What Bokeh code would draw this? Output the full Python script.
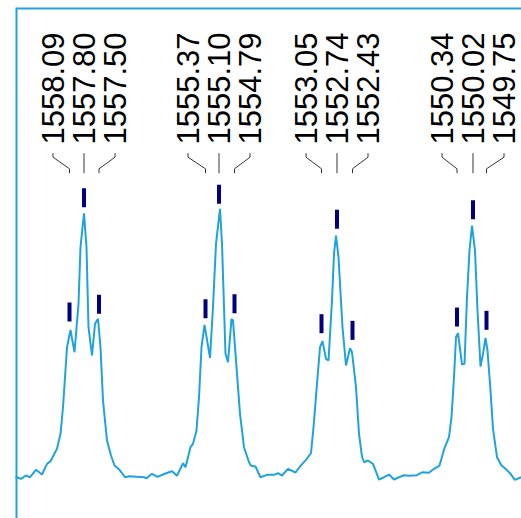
import math
from bokeh.plotting import figure
from bokeh.models import Range1d, Span, ColumnDataSource
from bokeh.core.properties import value
from bokeh.embed import file_html
from bokeh.resources import INLINE

# ---- spectrum trace (m/z, relative intensity) ----
mz = [1559.20, 1559.14, 1559.06, 1558.96, 1558.88, 1558.76, 1558.64, 1558.54, 1558.47, 1558.34,
      1558.27, 1558.22, 1558.18, 1558.14, 1558.07, 1557.99, 1557.91, 1557.87, 1557.80, 1557.75,
      1557.71, 1557.64, 1557.58, 1557.52, 1557.47, 1557.42, 1557.34, 1557.26, 1557.19, 1557.09,
      1556.98, 1556.89, 1556.60, 1556.55, 1556.44, 1556.33, 1556.17, 1556.04, 1555.94, 1555.82,
      1555.77, 1555.67, 1555.62, 1555.55, 1555.50, 1555.45, 1555.39, 1555.28, 1555.22, 1555.16,
      1555.08, 1555.04, 1554.97, 1554.92, 1554.85, 1554.82, 1554.74, 1554.68, 1554.60, 1554.50,
      1554.46, 1554.37, 1554.27, 1554.14, 1554.00, 1553.92, 1553.84, 1553.72, 1553.57, 1553.47,
      1553.36, 1553.26, 1553.21, 1553.14, 1553.08, 1553.03, 1552.96, 1552.91, 1552.84, 1552.80,
      1552.76, 1552.71, 1552.63, 1552.56, 1552.48, 1552.44, 1552.36, 1552.30, 1552.24, 1552.20,
      1552.12, 1552.02, 1551.90, 1551.80, 1551.70, 1551.60, 1551.50, 1551.40, 1551.29, 1551.14,
      1551.04, 1550.90, 1550.80, 1550.69, 1550.59, 1550.50, 1550.45, 1550.40, 1550.36, 1550.32,
      1550.24, 1550.19, 1550.14, 1550.09, 1550.04, 1549.98, 1549.93, 1549.87, 1549.82, 1549.77,
      1549.73, 1549.67, 1549.62, 1549.54, 1549.45, 1549.37, 1549.27, 1549.18, 1549.07, 1549.00]
intensity = [4.6, 4.65, 4.08, 5.25, 4.65, 7.28, 5.61, 9.40, 10.33, 14.73,
             20.05, 29.49, 40.14, 50.79, 56.96, 49.01, 66.19, 86.28, 98.34, 86.28,
             57.88, 47.84, 59.09, 60.87, 50.79, 31.87, 17.67, 12.35, 8.80, 7.28,
             4.65, 5.00, 4.65, 4.29, 5.86, 4.79, 5.96, 6.78, 5.15, 9.62,
             8.20, 15.30, 16.50, 21.22, 33.04, 50.79, 58.74, 47.02, 64.98, 87.48,
             99.90, 87.48, 48.44, 45.46, 60.87, 60.26, 41.35, 27.15, 15.30, 9.97,
             8.70, 8.45, 4.65, 5.50, 5.50, 6.07, 5.25, 7.63, 6.32, 8.70,
             10.82, 13.24, 22.39, 37.80, 50.79, 52.92, 46.67, 46.07, 67.36, 83.93,
             90.43, 82.73, 57.88, 44.29, 50.43, 49.01, 36.59, 20.05, 12.00, 9.97,
             10.58, 9.40, 3.83, 4.65, 5.61, 3.83, 4.65, 5.36, 5.15, 5.36,
             6.42, 6.21, 7.63, 8.80, 15.01, 18.85, 25.94, 40.14, 54.33, 55.75,
             44.65, 44.89, 68.53, 85.11, 93.98, 85.11, 63.81, 43.94, 48.44, 54.12,
             49.62, 35.42, 21.83, 11.75, 8.80, 7.63, 5.86, 3.73, 4.54, 4.8]

# ---- annotated peaks ----
peak_mz = [1558.09, 1557.80, 1557.50, 1555.37, 1555.10, 1554.79,
           1553.05, 1552.74, 1552.43, 1550.34, 1550.02, 1549.75]
peak_int = [57.78, 98.34, 60.51, 58.95, 99.55, 60.72,
            53.63, 90.68, 51.28, 56.00, 94.08, 54.83]
peak_labels = ["1558.09", "1557.80", "1557.50", "1555.37", "1555.10", "1554.79",
               "1553.05", "1552.74", "1552.43", "1550.34", "1550.02", "1549.75"]
group_main_mz = [1557.80, 1555.10, 1552.74, 1550.02]

# ---- layout ----
W, H = 521, 518
BORDER_L, BORDER_T = 15, 7
X_START, X_END = 1559.17, 1549.05
Y_START, Y_END = -10.0, 171.355
BLUE = "#1fa3da"
NAVY = "#000080"

px_per_x = (W - BORDER_L) / (X_START - X_END)
px_per_y = (H - BORDER_T) / (Y_END - Y_START)

def y_from_top(px):
    # px measured from the page top edge
    return Y_END - (px - BORDER_T) / px_per_y

p = figure(width=W, height=H, output_backend="svg", toolbar_location=None,
           x_range=Range1d(X_START, X_END), y_range=Range1d(Y_START, Y_END),
           min_border_left=BORDER_L, min_border_right=0,
           min_border_top=BORDER_T, min_border_bottom=0)
p.axis.visible = False
p.grid.visible = False
p.outline_line_color = None
p.background_fill_color = "white"
p.border_fill_color = "white"

# frame lines (left and top); half of the width lies outside the frame and is clipped
p.add_layout(Span(location=X_START, dimension="height", line_color=BLUE, line_width=4))
p.add_layout(Span(location=Y_END, dimension="width", line_color=BLUE, line_width=4))

# spectrum
p.line(mz, intensity, line_color=BLUE, line_width=2)

# peak ticks
tick_gap, tick_h, tick_w = 6, 19, 4
tick_y = [v + (tick_gap + tick_h / 2) / px_per_y for v in peak_int]
p.rect(x=peak_mz, y=tick_y, width=tick_w, height=tick_h, width_units="screen",
       height_units="screen", fill_color=NAVY, line_color=None)

# label positions: spread around each group's main peak
spread = 31 / px_per_x
label_x = []
for m in group_main_mz:
    label_x += [m + spread, m, m - spread]

label_y = y_from_top(144.0)
src = ColumnDataSource(dict(x=label_x, y=[label_y] * len(label_x), t=peak_labels))
p.text(x="x", y="y", text="t", source=src, angle=math.pi / 2,
       text_align="left", text_baseline="middle", text_color="#000000",
       text_font=value("Liberation Sans"), text_font_size="31px")

# connectors
ys = [y_from_top(152.7), y_from_top(156.7), y_from_top(168.3), y_from_top(172.7)]
xs_list, ys_list = [], []
for lx, px in zip(label_x, peak_mz):
    xs_list.append([lx, lx, px, px])
    ys_list.append(ys)
p.multi_line(xs_list, ys_list, line_color="#333333", line_width=1)

open("out.html", "w").write(file_html(p, INLINE))
